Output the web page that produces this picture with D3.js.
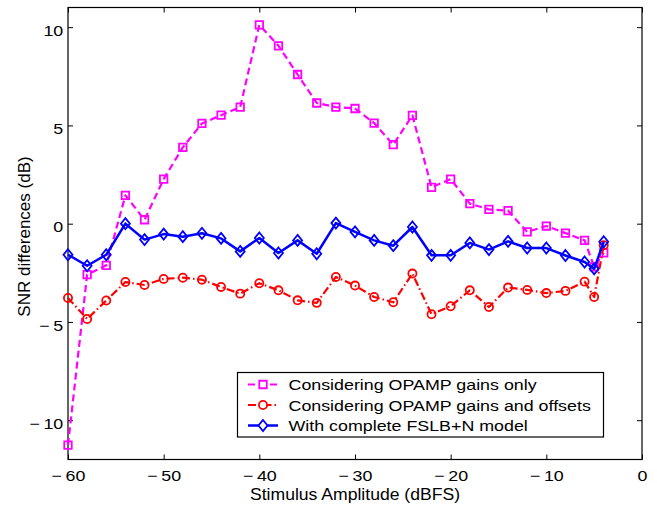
<!DOCTYPE html>
<html>
<head>
<meta charset="utf-8">
<script src="https://cdn.jsdelivr.net/npm/d3@7"></script>
<style>
  body { margin: 0; background: #fff; }
  text { font-family: "Liberation Sans", Arial, sans-serif; fill: #000; }
</style>
</head>
<body>
<div id="chart"></div>
<script>

// stimulus amplitude (dBFS)
var xVals = [-60, -58, -56, -54, -52, -50, -48, -46, -44, -42, -40, -38, -36, -34, -32,
             -30, -28, -26, -24, -22, -20, -18, -16, -14, -12, -10, -8, -6, -5, -4];

// SNR differences (dB)
var gainsOnly = [-11.27, -2.59, -2.12, 1.44, 0.20, 2.27, 3.88, 5.10, 5.52, 5.93, 10.12, 9.05, 7.59, 6.14, 5.93,
                 5.86, 5.12, 4.02, 5.51, 1.85, 2.27, 1.02, 0.73, 0.66, -0.42, -0.12, -0.48, -0.85, -2.2, -1.49];
var gainsOffsets = [-3.78, -4.85, -3.91, -2.97, -3.12, -2.81, -2.75, -2.85, -3.22, -3.56, -3.03, -3.39, -3.90, -4.03, -2.71,
                    -3.15, -3.73, -4.00, -2.54, -4.61, -4.20, -3.39, -4.24, -3.25, -3.37, -3.53, -3.42, -2.95, -3.73, -1.1];
var fullModel = [-1.58, -2.14, -1.58, 0.00, -0.81, -0.53, -0.66, -0.49, -0.75, -1.41, -0.73, -1.49, -0.85, -1.53, 0.03,
                 -0.42, -0.85, -1.12, -0.17, -1.61, -1.61, -0.98, -1.32, -0.90, -1.24, -1.24, -1.62, -1.95, -2.30, -0.92];

var seriesNames = ["Considering OPAMP gains only", "Considering OPAMP gains and offsets", "With complete FSLB+N model"];

var xTicks = [-60, -50, -40, -30, -20, -10, 0];
var yTicks = [-10, -5, 0, 5, 10];

var width = 657,
    height = 507;
var margin = { top: 7.5, right: 15, bottom: 47.5, left: 68 };
var plotW = width - margin.left - margin.right,
    plotH = height - margin.top - margin.bottom;

var svg = d3.select("#chart")
    .append("svg")
    .attr("width", width)
    .attr("height", height);

var g = svg.append("g")
    .attr("transform", "translate(" + margin.left + "," + margin.top + ")");

var x = d3.scaleLinear().domain([-60, 0]).range([0, plotW]);
var y = d3.scaleLinear().domain([-12, 11]).range([plotH, 0]);

function fmt(d) {
    return d < 0 ? "\u2212\u2009" + Math.abs(d) : "" + d;
}

// axes, ticks pointing inwards
var xAxis = g.append("g")
    .attr("transform", "translate(0," + plotH + ")")
    .call(d3.axisBottom(x).tickValues(xTicks).tickSize(-5).tickPadding(11).tickFormat(fmt));
g.append("g")
    .call(d3.axisTop(x).tickValues(xTicks).tickSize(-5).tickFormat(""));
var yAxis = g.append("g")
    .call(d3.axisLeft(y).tickValues(yTicks).tickSize(-5).tickPadding(4).tickFormat(fmt));
g.append("g")
    .attr("transform", "translate(" + plotW + ",0)")
    .call(d3.axisRight(y).tickValues(yTicks).tickSize(-5).tickFormat(""));

g.selectAll(".domain").remove();
g.selectAll(".tick line").attr("stroke", "#000").attr("stroke-width", 1);
g.selectAll(".tick text")
    .style("font-size", "15px")
    .style("font-family", "'Liberation Sans', Arial, sans-serif")
    .attr("fill", "#000")
    .attr("transform", "scale(1.19,1)");
yAxis.selectAll(".tick text").attr("dy", "0.55em");

g.append("rect")
    .attr("width", plotW)
    .attr("height", plotH)
    .attr("fill", "none")
    .attr("stroke", "#000")
    .attr("stroke-width", 1.2);

// axis labels
svg.append("text")
    .attr("transform", "translate(" + (margin.left + plotW / 2) + ",500) scale(1.1,1)")
    .attr("text-anchor", "middle")
    .style("font-size", "16px")
    .text("Stimulus Amplitude (dBFS)");

svg.append("text")
    .attr("transform", "translate(30," + (margin.top + plotH / 2 + 3) + ") rotate(-90)")
    .attr("text-anchor", "middle")
    .style("font-size", "17px")
    .text("SNR differences (dB)");

// series
var series = [
    { name: seriesNames[0], values: gainsOnly, color: "#ff00ff", dash: "7,4", width: 2.2, marker: "square" },
    { name: seriesNames[1], values: gainsOffsets, color: "#ff0000", dash: "8,3,1.5,3", width: 2.2, marker: "circle" },
    { name: seriesNames[2], values: fullModel, color: "#0000ff", dash: null, width: 2.5, marker: "diamond" }
];

var line = d3.line()
    .x(function (d) { return x(d[0]); })
    .y(function (d) { return y(d[1]); });

var symbols = {
    square: d3.symbol().type(d3.symbolSquare).size(56),
    circle: d3.symbol().type(d3.symbolCircle).size(52),
    diamond: function () {
        // tall diamond like matlab's 'd' marker
        return "M0,-5.5L4.5,0L0,5.5L-4.5,0Z";
    }
};

series.forEach(function (s) {
    var pts = xVals.map(function (xv, i) { return [xv, s.values[i]]; });
    var sg = g.append("g");

    sg.append("path")
        .datum(pts)
        .attr("d", line)
        .attr("fill", "none")
        .attr("stroke", s.color)
        .attr("stroke-width", s.width)
        .attr("stroke-dasharray", s.dash)
        .attr("stroke-linejoin", "round");

    sg.selectAll("path.mk")
        .data(pts)
        .enter()
        .append("path")
        .attr("class", "mk")
        .attr("d", symbols[s.marker])
        .attr("transform", function (d) { return "translate(" + x(d[0]) + "," + y(d[1]) + ")"; })
        .attr("fill", "none")
        .attr("stroke", s.color)
        .attr("stroke-width", 1.8);
});

// legend
var lg = svg.append("g");
lg.append("rect")
    .attr("x", 237.5)
    .attr("y", 372.5)
    .attr("width", 366)
    .attr("height", 64.5)
    .attr("fill", "#fff")
    .attr("stroke", "#000")
    .attr("stroke-width", 1.2);

var rowY = [384.5, 405, 425.5];
series.forEach(function (s, i) {
    lg.append("line")
        .attr("x1", 248).attr("x2", 278)
        .attr("y1", rowY[i]).attr("y2", rowY[i])
        .attr("stroke", s.color)
        .attr("stroke-width", s.width)
        .attr("stroke-dasharray", s.dash);
    lg.append("path")
        .attr("d", symbols[s.marker])
        .attr("transform", "translate(263," + rowY[i] + ")")
        .attr("fill", "#fff")
        .attr("stroke", s.color)
        .attr("stroke-width", 1.8);
    lg.append("text")
        .attr("transform", "translate(288.5," + (rowY[i] + 5.5) + ") scale(1.19,1)")
        .style("font-size", "15px")
        .text(s.name);
});

</script>
</body>
</html>
